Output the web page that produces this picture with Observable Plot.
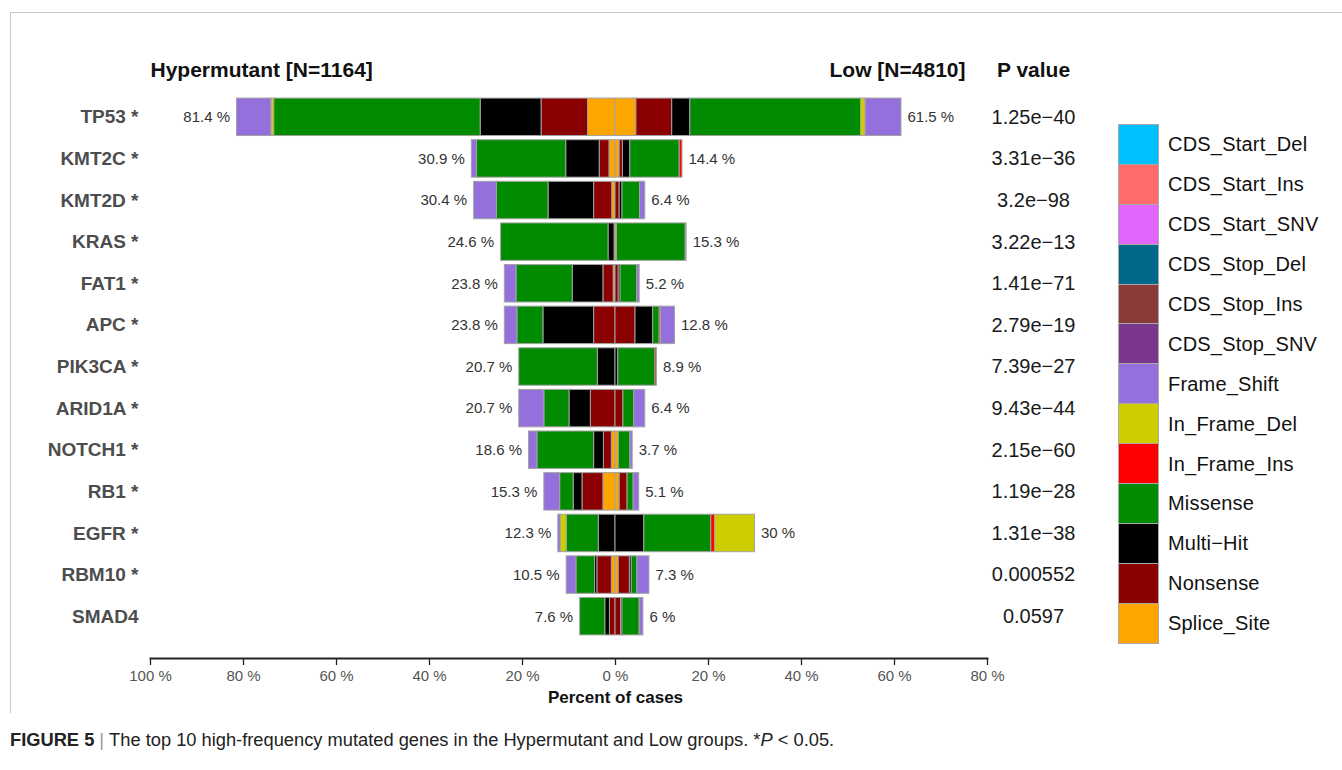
<!DOCTYPE html>
<html>
<head>
<meta charset="utf-8">
<script src="https://cdn.jsdelivr.net/npm/d3@7"></script>
<script src="https://cdn.jsdelivr.net/npm/@observablehq/plot@0.6"></script>
<style>
  body { margin: 0; background: #fff; font-family: "Liberation Sans", Arial, sans-serif; }
  #page { position: relative; width: 1342px; height: 770px; overflow: hidden; }
  #border { position: absolute; left: 10px; top: 12px; width: 1340px; height: 700px;
            border-top: 1px solid #c8c8c8; border-left: 1px solid #c8c8c8; }
  #chart { position: absolute; left: 0; top: 0; }
  #legend { position: absolute; left: 1118px; top: 125px; }
  .item { display: flex; align-items: center; height: 39.9px; }
  .sw { width: 41px; height: 40.9px; box-sizing: border-box; border: 1px solid #aaa; margin-top: -1px; flex: none; }
  .lab { margin-left: 9px; font-size: 20px; color: #111; letter-spacing: 0.2px; white-space: nowrap; }
  #caption { position: absolute; left: 10px; top: 729px; font-size: 18.3px; color: #222; white-space: nowrap; }
  #caption .sep { color: #999; margin: 0 5px; }
</style>
</head>
<body>
<div id="page">
  <div id="border"></div>
  <div id="chart"></div>
  <div id="legend"></div>
  <div id="caption"><b>FIGURE 5</b><span class="sep">|</span>The top 10 high-frequency mutated genes in the Hypermutant and Low groups. *<i>P</i> &lt; 0.05.</div>
</div>
<script>
// Genes, top to bottom
const genes = ["TP53", "KMT2C", "KMT2D", "KRAS", "FAT1", "APC", "PIK3CA", "ARID1A", "NOTCH1", "RB1", "EGFR", "RBM10", "SMAD4"];
const significant = [true, true, true, true, true, true, true, true, true, true, true, true, false];
const pValues = ["1.25e\u221240", "3.31e\u221236", "3.2e\u221298", "3.22e\u221213", "1.41e\u221271", "2.79e\u221219",
                 "7.39e\u221227", "9.43e\u221244", "2.15e\u221260", "1.19e\u221228", "1.31e\u221238", "0.000552", "0.0597"];

// Percent of cases per variant class, Hypermutant group (drawn to the left)
const hyperSplice     = [5.9, 1.3, 0.7, 0.2, 0.4, 0, 0, 0, 0.8, 2.6, 0, 0.8, 0];
const hyperNonsense   = [10.0, 2.1, 3.9, 0, 2.2, 4.6, 0, 5.3, 1.7, 4.5, 0, 3.1, 1.2];
const hyperMultiHit   = [13.1, 7.2, 9.8, 1.3, 6.6, 10.9, 3.8, 4.6, 2.1, 1.9, 3.6, 0.5, 1.0];
const hyperMissense   = [44.4, 19.2, 11.1, 23.1, 12.1, 5.6, 16.9, 5.4, 12.2, 2.9, 6.9, 4.0, 5.4];
const hyperInFrameIns = [0, 0, 0, 0, 0, 0, 0, 0, 0, 0, 0, 0, 0];
const hyperInFrameDel = [0.6, 0, 0, 0, 0, 0, 0, 0, 0, 0, 1.3, 0, 0];
const hyperFrameShift = [7.4, 1.1, 4.9, 0, 2.5, 2.7, 0, 5.4, 1.8, 3.4, 0.5, 2.1, 0];

// Percent of cases per variant class, Low group (drawn to the right)
const lowSplice     = [4.5, 0.9, 0, 0.3, 0, 0, 0, 0, 0.7, 0.9, 0, 0.7, 0];
const lowNonsense   = [7.7, 0.7, 0.9, 0, 0.7, 4.3, 0, 1.7, 0, 1.7, 0, 2.4, 1.2];
const lowMultiHit   = [3.9, 1.6, 0.6, 0, 0.4, 3.8, 0.6, 0, 0, 0, 6.2, 0.4, 0.3];
const lowMissense   = [36.7, 10.6, 3.8, 14.8, 3.6, 1.4, 8.0, 2.3, 2.5, 1.3, 14.4, 1.2, 3.7];
const lowInFrameIns = [0, 0.6, 0, 0, 0, 0.3, 0.3, 0, 0, 0, 0.8, 0, 0];
const lowInFrameDel = [1.0, 0, 0, 0.2, 0, 0, 0, 0, 0, 0, 8.6, 0, 0];
const lowFrameShift = [7.7, 0, 1.1, 0, 0.5, 3.0, 0, 2.4, 0.5, 1.2, 0, 2.6, 0.8];

// Variant classes and their colours, in legend order
const classes = ["CDS_Start_Del", "CDS_Start_Ins", "CDS_Start_SNV", "CDS_Stop_Del", "CDS_Stop_Ins", "CDS_Stop_SNV",
                 "Frame_Shift", "In_Frame_Del", "In_Frame_Ins", "Missense", "Multi\u2212Hit", "Nonsense", "Splice_Site"];
const classColors = ["#00BFFF", "#FF6A6A", "#E066FF", "#00688B", "#8B3A3A", "#7A378B",
                     "#9370DB", "#CDCD00", "#FF0000", "#008B00", "#000000", "#8B0000", "#FFA500"];

const xTicks = [-100, -80, -60, -40, -20, 0, 20, 40, 60, 80];

// Segments stack outward from zero in reverse legend order
const stackOrder = classes.slice().reverse();

const hyperSeries = [["Splice_Site", hyperSplice], ["Nonsense", hyperNonsense], ["Multi\u2212Hit", hyperMultiHit],
                     ["Missense", hyperMissense], ["In_Frame_Ins", hyperInFrameIns], ["In_Frame_Del", hyperInFrameDel],
                     ["Frame_Shift", hyperFrameShift]];
const lowSeries = [["Splice_Site", lowSplice], ["Nonsense", lowNonsense], ["Multi\u2212Hit", lowMultiHit],
                   ["Missense", lowMissense], ["In_Frame_Ins", lowInFrameIns], ["In_Frame_Del", lowInFrameDel],
                   ["Frame_Shift", lowFrameShift]];

const segments = [];
genes.forEach((gene, i) => {
  for (const [type, vals] of hyperSeries) if (vals[i] > 0) segments.push({gene, type, value: -vals[i]});
  for (const [type, vals] of lowSeries) if (vals[i] > 0) segments.push({gene, type, value: vals[i]});
});

const hyperTotal = genes.map((g, i) => +d3.sum(hyperSeries, s => s[1][i]).toFixed(1));
const lowTotal = genes.map((g, i) => +d3.sum(lowSeries, s => s[1][i]).toFixed(1));
const pct = v => `${v} %`;

const chart = Plot.plot({
  width: 1100,
  height: 712,
  marginLeft: 150,
  marginRight: 113,
  marginTop: 96,
  marginBottom: 54,
  style: {fontFamily: "'Liberation Sans', Arial, sans-serif", background: "transparent", overflow: "visible"},
  x: {domain: [-100, 80]},
  y: {domain: genes, paddingInner: 0.1, paddingOuter: 0.05, insetBottom: 21, round: false, label: null},
  color: {domain: classes, range: classColors},
  marks: [
    Plot.barX(segments, {x: "value", y: "gene", fill: "type", order: stackOrder, stroke: "#a3a3a3", strokeWidth: 1}),
    Plot.text(genes, {x: (g, i) => -hyperTotal[i], y: g => g, text: (g, i) => pct(hyperTotal[i]),
                      textAnchor: "end", dx: -7, fontSize: 15, fill: "#333"}),
    Plot.text(genes, {x: (g, i) => lowTotal[i], y: g => g, text: (g, i) => pct(lowTotal[i]),
                      textAnchor: "start", dx: 6, fontSize: 15, fill: "#333"}),
    Plot.text(genes, {y: g => g, frameAnchor: "right", dx: 46, text: (g, i) => pValues[i],
                      textAnchor: "middle", fontSize: 20, fill: "#1a1a1a"}),
    Plot.axisY({tickSize: 0, tickPadding: 12, fontSize: 19, fontWeight: "bold", color: "#4d4d4d",
                tickFormat: g => significant[genes.indexOf(g)] ? `${g} *` : g, label: null}),
    Plot.frame({anchor: "bottom", stroke: "#222", strokeWidth: 1.8}),
    Plot.axisX({ticks: xTicks, tickFormat: d => pct(Math.abs(d)), tickSize: 7, tickPadding: 5,
                fontSize: 15, stroke: "#222", fill: "#555", strokeWidth: 1.3, label: null}),
    Plot.text(["Percent of cases"], {x: () => 0, frameAnchor: "bottom", dy: 44, fontSize: 17, fontWeight: "bold", fill: "#111"}),
    Plot.text(["Hypermutant [N=1164]"], {frameAnchor: "top-left", textAnchor: "start", dy: -34,
                                         fontSize: 21, fontWeight: "bold", fill: "#111"}),
    Plot.text(["Low [N=4810]"], {frameAnchor: "top-right", textAnchor: "end", dx: -22, dy: -34,
                                 fontSize: 21, fontWeight: "bold", fill: "#111"}),
    Plot.text(["P value"], {frameAnchor: "top-right", textAnchor: "middle", dx: 46, dy: -34,
                            fontSize: 21, fontWeight: "bold", fill: "#111"})
  ]
});
document.getElementById("chart").append(chart);

// Colour key
const legend = d3.select("#legend");
classes.forEach((c, i) => {
  const item = legend.append("div").attr("class", "item");
  item.append("div").attr("class", "sw").style("background", classColors[i]);
  item.append("div").attr("class", "lab").text(c);
});
</script>
</body>
</html>
